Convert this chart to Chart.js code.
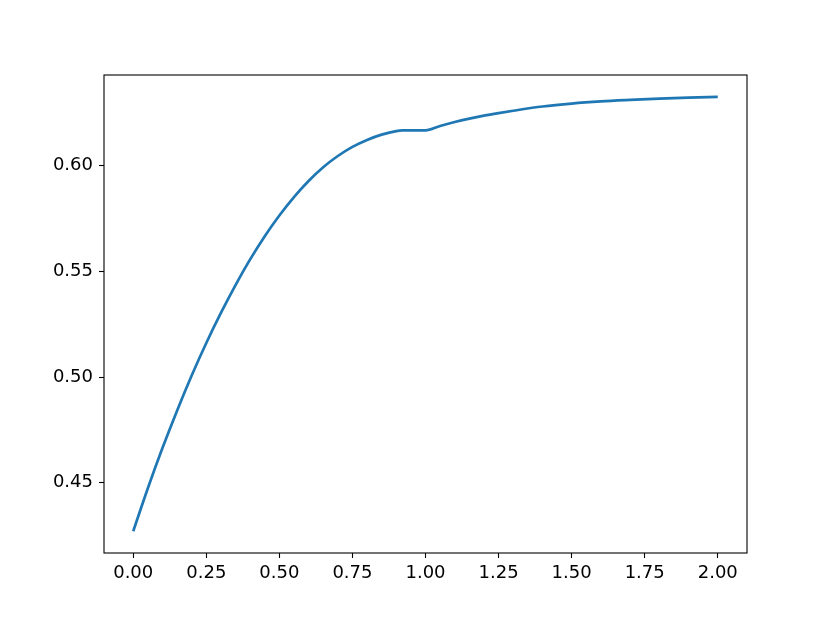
<!DOCTYPE html>
<html>
<head>
<meta charset="utf-8">
<title>Curve</title>
<script src="https://cdn.jsdelivr.net/npm/chart.js@4.4.1/dist/chart.umd.min.js"></script>
<style>
    html, body { margin: 0; padding: 0; background: #fff; }
    #wrap { width: 830px; height: 623px; }
</style>
</head>
<body>
<div id="wrap"><canvas id="curveChart" width="830" height="623"></canvas></div>
<script>
// Values
const xValues = [0.00, 0.05, 0.10, 0.15, 0.20, 0.25, 0.30, 0.35, 0.40, 0.45,
                 0.50, 0.55, 0.60, 0.65, 0.70, 0.75, 0.80, 0.85, 0.90, 0.92,
                 0.95, 1.00, 1.05, 1.10, 1.15, 1.20, 1.25, 1.30, 1.40, 1.50,
                 1.60, 1.70, 1.80, 1.90, 2.00];
const yValues = [0.4271, 0.4474, 0.4664, 0.4841, 0.5007, 0.5161, 0.5303, 0.5435, 0.5556, 0.5666,
                 0.5764, 0.5851, 0.5927, 0.5992, 0.6045, 0.6088, 0.6121, 0.6146, 0.6163, 0.6166,
                 0.6166, 0.6166, 0.6187, 0.6206, 0.6222, 0.6236, 0.6248, 0.6259, 0.6279, 0.6293,
                 0.6303, 0.6310, 0.6316, 0.6321, 0.6325];
const xTicks = [0.00, 0.25, 0.50, 0.75, 1.00, 1.25, 1.50, 1.75, 2.00];
const yTicks = [0.45, 0.50, 0.55, 0.60];

const points = xValues.map((x, i) => ({ x: x, y: yValues[i] }));

// Box around the plot area, like a matplotlib axes frame
const framePlugin = {
    id: 'frame',
    afterDraw(chart) {
        const a = chart.chartArea;
        const ctx = chart.ctx;
        ctx.save();
        ctx.strokeStyle = '#000';
        ctx.lineWidth = 1.1;
        ctx.strokeRect(a.left, a.top, a.right - a.left, a.bottom - a.top);
        ctx.restore();
    }
};

const tickFont = { family: 'DejaVu Sans', size: 18 };

new Chart(document.getElementById('curveChart'), {
    type: 'line',
    data: {
        datasets: [{
            data: points,
            borderColor: '#1f77b4',
            borderWidth: 2.7,
            pointRadius: 0,
            fill: false,
            cubicInterpolationMode: 'monotone'
        }]
    },
    options: {
        responsive: false,
        animation: false,
        devicePixelRatio: 1,
        layout: { padding: { top: 75, right: 83, bottom: 0, left: 0 } },
        plugins: {
            legend: { display: false },
            tooltip: { enabled: false }
        },
        scales: {
            x: {
                type: 'linear',
                min: -0.1,
                max: 2.1,
                afterBuildTicks: (axis) => { axis.ticks = xTicks.map(v => ({ value: v })); },
                afterFit: (axis) => { axis.height = 70; },
                border: { display: false },
                grid: { drawOnChartArea: false, drawTicks: true, tickLength: 5, tickColor: '#000', tickWidth: 1.1 },
                ticks: {
                    color: '#000',
                    font: tickFont,
                    padding: 5,
                    maxRotation: 0,
                    autoSkip: false,
                    callback: (v) => v.toFixed(2)
                }
            },
            y: {
                min: 0.4168,
                max: 0.6428,
                afterBuildTicks: (axis) => { axis.ticks = yTicks.map(v => ({ value: v })); },
                afterFit: (axis) => { axis.width = 104; },
                border: { display: false },
                grid: { drawOnChartArea: false, drawTicks: true, tickLength: 5, tickColor: '#000', tickWidth: 1.1 },
                ticks: {
                    color: '#000',
                    font: tickFont,
                    padding: 6,
                    autoSkip: false,
                    callback: (v) => v.toFixed(2)
                }
            }
        }
    },
    plugins: [framePlugin]
});
</script>
</body>
</html>
